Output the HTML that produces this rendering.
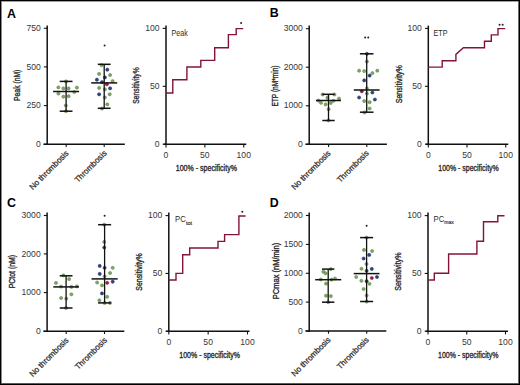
<!DOCTYPE html>
<html><head><meta charset="utf-8"><title>Figure</title>
<style>
html,body{margin:0;padding:0;background:#fff;}
body{width:520px;height:385px;overflow:hidden;}
svg{display:block;}
svg text{font-family:"Liberation Sans", sans-serif;}
</style></head>
<body>
<svg width="520" height="385" viewBox="0 0 520 385">
<rect x="0" y="0" width="520" height="385" fill="#fff"/>
<text x="6.9" y="17.5" font-size="12.4" font-weight="bold" fill="#000">A</text>
<text x="269.7" y="17.3" font-size="12.4" font-weight="bold" fill="#000">B</text>
<text x="7.0" y="206.5" font-size="12.4" font-weight="bold" fill="#000">C</text>
<text x="269.7" y="206.7" font-size="12.4" font-weight="bold" fill="#000">D</text>
<line x1="47.2" y1="25.6" x2="47.2" y2="145.05" stroke="#111" stroke-width="1.5"/>
<line x1="43.9" y1="28.3" x2="47.2" y2="28.3" stroke="#111" stroke-width="1.1"/>
<text x="40.8" y="30.9" font-size="8.6" text-anchor="end" font-weight="normal" fill="#363636" >750</text>
<line x1="43.9" y1="66.9" x2="47.2" y2="66.9" stroke="#111" stroke-width="1.1"/>
<text x="40.8" y="69.5" font-size="8.6" text-anchor="end" font-weight="normal" fill="#363636" >500</text>
<line x1="43.9" y1="105.6" x2="47.2" y2="105.6" stroke="#111" stroke-width="1.1"/>
<text x="40.8" y="108.2" font-size="8.6" text-anchor="end" font-weight="normal" fill="#363636" >250</text>
<line x1="43.9" y1="144.3" x2="47.2" y2="144.3" stroke="#111" stroke-width="1.1"/>
<text x="40.8" y="146.9" font-size="8.6" text-anchor="end" font-weight="normal" fill="#363636" >0</text>
<line x1="43.4" y1="144.3" x2="124.8" y2="144.3" stroke="#111" stroke-width="1.5"/>
<line x1="66.2" y1="144.3" x2="66.2" y2="147.1" stroke="#111" stroke-width="1.1"/>
<line x1="104.2" y1="144.3" x2="104.2" y2="147.1" stroke="#111" stroke-width="1.1"/>
<text x="0" y="0" font-size="8.2" text-anchor="end" fill="#2a2a2a" stroke="#2a2a2a" stroke-width="0.25" textLength="51.6" lengthAdjust="spacingAndGlyphs" transform="translate(69.2,153.8) rotate(-45)">No thrombosis</text>
<text x="0" y="0" font-size="8.2" text-anchor="end" fill="#2a2a2a" stroke="#2a2a2a" stroke-width="0.25" textLength="41.4" lengthAdjust="spacingAndGlyphs" transform="translate(107.2,153.8) rotate(-45)">Thrombosis</text>
<text x="0" y="0" font-size="8.8" font-weight="normal" stroke="#2a2a2a" stroke-width="0.35" text-anchor="middle" fill="#2a2a2a" textLength="31.3" lengthAdjust="spacingAndGlyphs" transform="translate(19.77,85.3) rotate(-90)">Peak (nM)</text>
<circle cx="66" cy="81.4" r="1.6" fill="#7ea666" stroke="#5a823f" stroke-width="0.5"/>
<circle cx="58.4" cy="87.4" r="1.6" fill="#7ea666" stroke="#5a823f" stroke-width="0.5"/>
<circle cx="63.4" cy="88.4" r="1.6" fill="#7ea666" stroke="#5a823f" stroke-width="0.5"/>
<circle cx="68.6" cy="88.4" r="1.6" fill="#7ea666" stroke="#5a823f" stroke-width="0.5"/>
<circle cx="76.9" cy="87.6" r="1.6" fill="#7ea666" stroke="#5a823f" stroke-width="0.5"/>
<circle cx="58.4" cy="93.6" r="1.6" fill="#7ea666" stroke="#5a823f" stroke-width="0.5"/>
<circle cx="74.3" cy="92" r="1.6" fill="#7ea666" stroke="#5a823f" stroke-width="0.5"/>
<circle cx="63.4" cy="96.7" r="1.6" fill="#7ea666" stroke="#5a823f" stroke-width="0.5"/>
<circle cx="68.6" cy="96.2" r="1.6" fill="#7ea666" stroke="#5a823f" stroke-width="0.5"/>
<circle cx="65.8" cy="105.5" r="1.6" fill="#7ea666" stroke="#5a823f" stroke-width="0.5"/>
<circle cx="66" cy="111.2" r="1.6" fill="#7ea666" stroke="#5a823f" stroke-width="0.5"/>
<line x1="66.1" y1="81.4" x2="66.1" y2="111.2" stroke="#111" stroke-width="1.3"/>
<line x1="59.7" y1="81.4" x2="72.5" y2="81.4" stroke="#111" stroke-width="1.5"/>
<line x1="59.7" y1="111.2" x2="72.5" y2="111.2" stroke="#111" stroke-width="1.5"/>
<line x1="53.1" y1="91.5" x2="79.1" y2="91.5" stroke="#111" stroke-width="1.5"/>
<circle cx="101.6" cy="65.2" r="1.6" fill="#7ea666" stroke="#5a823f" stroke-width="0.5"/>
<circle cx="107.3" cy="69.7" r="1.6" fill="#2f4383" stroke="#1d2a5c" stroke-width="0.5"/>
<circle cx="99.1" cy="73.9" r="1.6" fill="#7ea666" stroke="#5a823f" stroke-width="0.5"/>
<circle cx="110.1" cy="75" r="1.6" fill="#7ea666" stroke="#5a823f" stroke-width="0.5"/>
<circle cx="104.9" cy="77.4" r="1.6" fill="#2f4383" stroke="#1d2a5c" stroke-width="0.5"/>
<circle cx="96.9" cy="79.7" r="1.6" fill="#2f4383" stroke="#1d2a5c" stroke-width="0.5"/>
<circle cx="112.6" cy="81.1" r="1.6" fill="#7ea666" stroke="#5a823f" stroke-width="0.5"/>
<circle cx="102" cy="82.1" r="1.6" fill="#2f4383" stroke="#1d2a5c" stroke-width="0.5"/>
<circle cx="106.9" cy="84.3" r="1.6" fill="#a3173f" stroke="#8c1236" stroke-width="0.5"/>
<circle cx="99.1" cy="87.9" r="1.6" fill="#7ea666" stroke="#5a823f" stroke-width="0.5"/>
<circle cx="104.9" cy="89.3" r="1.6" fill="#7ea666" stroke="#5a823f" stroke-width="0.5"/>
<circle cx="110.1" cy="88.3" r="1.6" fill="#2f4383" stroke="#1d2a5c" stroke-width="0.5"/>
<circle cx="99.1" cy="94.3" r="1.6" fill="#2f4383" stroke="#1d2a5c" stroke-width="0.5"/>
<circle cx="109.7" cy="94.3" r="1.6" fill="#7ea666" stroke="#5a823f" stroke-width="0.5"/>
<circle cx="104.9" cy="97.4" r="1.6" fill="#7ea666" stroke="#5a823f" stroke-width="0.5"/>
<circle cx="107.3" cy="104.3" r="1.6" fill="#7ea666" stroke="#5a823f" stroke-width="0.5"/>
<circle cx="102" cy="108.6" r="1.6" fill="#7ea666" stroke="#5a823f" stroke-width="0.5"/>
<line x1="104.2" y1="64.3" x2="104.2" y2="108.3" stroke="#111" stroke-width="1.3"/>
<line x1="97.8" y1="64.3" x2="110.6" y2="64.3" stroke="#111" stroke-width="1.5"/>
<line x1="97.8" y1="108.3" x2="110.6" y2="108.3" stroke="#111" stroke-width="1.5"/>
<line x1="91.2" y1="82.9" x2="117.2" y2="82.9" stroke="#111" stroke-width="1.5"/>
<circle cx="104.6" cy="45.5" r="1.0" fill="#222"/>
<line x1="166" y1="25.6" x2="166" y2="144.95" stroke="#111" stroke-width="1.5"/>
<line x1="162.7" y1="28.4" x2="166" y2="28.4" stroke="#111" stroke-width="1.1"/>
<text x="159.6" y="31" font-size="8.6" text-anchor="end" font-weight="normal" fill="#363636" >100</text>
<line x1="162.7" y1="86.3" x2="166" y2="86.3" stroke="#111" stroke-width="1.1"/>
<text x="159.6" y="88.9" font-size="8.6" text-anchor="end" font-weight="normal" fill="#363636" >50</text>
<line x1="162.7" y1="144.2" x2="166" y2="144.2" stroke="#111" stroke-width="1.1"/>
<text x="159.6" y="146.8" font-size="8.6" text-anchor="end" font-weight="normal" fill="#363636" >0</text>
<line x1="163.5" y1="144.2" x2="246.3" y2="144.2" stroke="#111" stroke-width="1.5"/>
<line x1="166" y1="144.2" x2="166" y2="147.4" stroke="#111" stroke-width="1.1"/>
<text x="166" y="158.2" font-size="8.6" text-anchor="middle" font-weight="normal" fill="#363636" >0</text>
<line x1="204.88" y1="144.2" x2="204.88" y2="147.4" stroke="#111" stroke-width="1.1"/>
<text x="204.88" y="158.2" font-size="8.6" text-anchor="middle" font-weight="normal" fill="#363636" >50</text>
<line x1="243.75" y1="144.2" x2="243.75" y2="147.4" stroke="#111" stroke-width="1.1"/>
<text x="243.75" y="158.2" font-size="8.6" text-anchor="middle" font-weight="normal" fill="#363636" >100</text>
<text x="206.38" y="170.87" font-size="8.8" font-weight="normal" stroke="#2a2a2a" stroke-width="0.35" text-anchor="middle" fill="#2a2a2a" textLength="61.2" lengthAdjust="spacingAndGlyphs">100% - specificity%</text>
<text x="0" y="0" font-size="8.8" font-weight="normal" stroke="#2a2a2a" stroke-width="0.35" text-anchor="middle" fill="#2a2a2a" textLength="36.5" lengthAdjust="spacingAndGlyphs" transform="translate(139.17,85.5) rotate(-90)">Sensitivity%</text>
<path d="M166,93 L172.8,93 L172.8,79.8 L186.9,79.8 L186.9,67 L200.8,67 L200.8,60.4 L214.7,60.4 L214.7,47.8 L228.4,47.8 L228.4,34.6 L236.2,34.6 L236.2,28.6 L243.2,28.6" fill="none" stroke="#821536" stroke-width="1.4" stroke-linejoin="miter"/>
<text x="171.5" y="35.8" font-size="8.6" fill="#2a2a2a" textLength="16.3" lengthAdjust="spacingAndGlyphs">Peak</text>
<circle cx="241.1" cy="23" r="1.0" fill="#222"/>
<line x1="309.2" y1="25.6" x2="309.2" y2="145.05" stroke="#111" stroke-width="1.5"/>
<line x1="305.9" y1="28.7" x2="309.2" y2="28.7" stroke="#111" stroke-width="1.1"/>
<text x="302.8" y="31.3" font-size="8.6" text-anchor="end" font-weight="normal" fill="#363636" >3000</text>
<line x1="305.9" y1="67.2" x2="309.2" y2="67.2" stroke="#111" stroke-width="1.1"/>
<text x="302.8" y="69.8" font-size="8.6" text-anchor="end" font-weight="normal" fill="#363636" >2000</text>
<line x1="305.9" y1="105.8" x2="309.2" y2="105.8" stroke="#111" stroke-width="1.1"/>
<text x="302.8" y="108.4" font-size="8.6" text-anchor="end" font-weight="normal" fill="#363636" >1000</text>
<line x1="305.9" y1="144.3" x2="309.2" y2="144.3" stroke="#111" stroke-width="1.1"/>
<text x="302.8" y="146.9" font-size="8.6" text-anchor="end" font-weight="normal" fill="#363636" >0</text>
<line x1="305.4" y1="144.3" x2="386.9" y2="144.3" stroke="#111" stroke-width="1.5"/>
<line x1="328.6" y1="144.3" x2="328.6" y2="147.1" stroke="#111" stroke-width="1.1"/>
<line x1="366.8" y1="144.3" x2="366.8" y2="147.1" stroke="#111" stroke-width="1.1"/>
<text x="0" y="0" font-size="8.2" text-anchor="end" fill="#2a2a2a" stroke="#2a2a2a" stroke-width="0.25" textLength="51.6" lengthAdjust="spacingAndGlyphs" transform="translate(331.2,153.8) rotate(-45)">No thrombosis</text>
<text x="0" y="0" font-size="8.2" text-anchor="end" fill="#2a2a2a" stroke="#2a2a2a" stroke-width="0.25" textLength="41.4" lengthAdjust="spacingAndGlyphs" transform="translate(369.4,153.8) rotate(-45)">Thrombosis</text>
<text x="0" y="0" font-size="8.8" font-weight="normal" stroke="#2a2a2a" stroke-width="0.35" text-anchor="middle" fill="#2a2a2a" textLength="41" lengthAdjust="spacingAndGlyphs" transform="translate(278.17,86) rotate(-90)">ETP (nM*min)</text>
<circle cx="322.6" cy="94.5" r="1.6" fill="#7ea666" stroke="#5a823f" stroke-width="0.5"/>
<circle cx="334.4" cy="94.5" r="1.6" fill="#7ea666" stroke="#5a823f" stroke-width="0.5"/>
<circle cx="327.4" cy="97.7" r="1.6" fill="#7ea666" stroke="#5a823f" stroke-width="0.5"/>
<circle cx="339" cy="98.6" r="1.6" fill="#7ea666" stroke="#5a823f" stroke-width="0.5"/>
<circle cx="318.5" cy="100.6" r="1.6" fill="#7ea666" stroke="#5a823f" stroke-width="0.5"/>
<circle cx="321" cy="102.8" r="1.6" fill="#7ea666" stroke="#5a823f" stroke-width="0.5"/>
<circle cx="325.6" cy="104.4" r="1.6" fill="#7ea666" stroke="#5a823f" stroke-width="0.5"/>
<circle cx="330.8" cy="103" r="1.6" fill="#7ea666" stroke="#5a823f" stroke-width="0.5"/>
<circle cx="333.5" cy="100.8" r="1.6" fill="#7ea666" stroke="#5a823f" stroke-width="0.5"/>
<circle cx="328.6" cy="109.2" r="1.6" fill="#7ea666" stroke="#5a823f" stroke-width="0.5"/>
<circle cx="328.5" cy="120.5" r="1.6" fill="#7ea666" stroke="#5a823f" stroke-width="0.5"/>
<line x1="328.5" y1="94.3" x2="328.5" y2="120.5" stroke="#111" stroke-width="1.3"/>
<line x1="322.3" y1="94.3" x2="334.7" y2="94.3" stroke="#111" stroke-width="1.5"/>
<line x1="322.3" y1="120.5" x2="334.7" y2="120.5" stroke="#111" stroke-width="1.5"/>
<line x1="316" y1="100.5" x2="341" y2="100.5" stroke="#111" stroke-width="1.5"/>
<circle cx="366.9" cy="53.8" r="1.6" fill="#2f4383" stroke="#1d2a5c" stroke-width="0.5"/>
<circle cx="366.9" cy="61.6" r="1.6" fill="#7ea666" stroke="#5a823f" stroke-width="0.5"/>
<circle cx="359.1" cy="70.7" r="1.6" fill="#7ea666" stroke="#5a823f" stroke-width="0.5"/>
<circle cx="364.2" cy="71.1" r="1.6" fill="#7ea666" stroke="#5a823f" stroke-width="0.5"/>
<circle cx="372.4" cy="73.1" r="1.6" fill="#7ea666" stroke="#5a823f" stroke-width="0.5"/>
<circle cx="377.3" cy="70.7" r="1.6" fill="#7ea666" stroke="#5a823f" stroke-width="0.5"/>
<circle cx="369.6" cy="75.6" r="1.6" fill="#2f4383" stroke="#1d2a5c" stroke-width="0.5"/>
<circle cx="364.2" cy="80.4" r="1.6" fill="#2f4383" stroke="#1d2a5c" stroke-width="0.5"/>
<circle cx="366.9" cy="88.4" r="1.6" fill="#7ea666" stroke="#5a823f" stroke-width="0.5"/>
<circle cx="361.8" cy="91.3" r="1.6" fill="#a3173f" stroke="#8c1236" stroke-width="0.5"/>
<circle cx="366.9" cy="93.5" r="1.6" fill="#7ea666" stroke="#5a823f" stroke-width="0.5"/>
<circle cx="372.4" cy="92.5" r="1.6" fill="#2f4383" stroke="#1d2a5c" stroke-width="0.5"/>
<circle cx="359.1" cy="97.5" r="1.6" fill="#2f4383" stroke="#1d2a5c" stroke-width="0.5"/>
<circle cx="374.9" cy="99.5" r="1.6" fill="#2f4383" stroke="#1d2a5c" stroke-width="0.5"/>
<circle cx="364.2" cy="101.1" r="1.6" fill="#7ea666" stroke="#5a823f" stroke-width="0.5"/>
<circle cx="369.6" cy="102.2" r="1.6" fill="#7ea666" stroke="#5a823f" stroke-width="0.5"/>
<circle cx="369.6" cy="108.5" r="1.6" fill="#7ea666" stroke="#5a823f" stroke-width="0.5"/>
<circle cx="364.5" cy="112.5" r="1.6" fill="#7ea666" stroke="#5a823f" stroke-width="0.5"/>
<line x1="366.7" y1="53.8" x2="366.7" y2="112.2" stroke="#111" stroke-width="1.3"/>
<line x1="359.9" y1="53.8" x2="373.5" y2="53.8" stroke="#111" stroke-width="1.5"/>
<line x1="359.9" y1="112.2" x2="373.5" y2="112.2" stroke="#111" stroke-width="1.5"/>
<line x1="353.8" y1="90" x2="379.6" y2="90" stroke="#111" stroke-width="1.5"/>
<circle cx="365.15" cy="37.5" r="1.0" fill="#222"/>
<circle cx="368.25" cy="37.5" r="1.0" fill="#222"/>
<line x1="428.3" y1="25.6" x2="428.3" y2="144.95" stroke="#111" stroke-width="1.5"/>
<line x1="425" y1="28.4" x2="428.3" y2="28.4" stroke="#111" stroke-width="1.1"/>
<text x="421.9" y="31" font-size="8.6" text-anchor="end" font-weight="normal" fill="#363636" >100</text>
<line x1="425" y1="86.3" x2="428.3" y2="86.3" stroke="#111" stroke-width="1.1"/>
<text x="421.9" y="88.9" font-size="8.6" text-anchor="end" font-weight="normal" fill="#363636" >50</text>
<line x1="425" y1="144.2" x2="428.3" y2="144.2" stroke="#111" stroke-width="1.1"/>
<text x="421.9" y="146.8" font-size="8.6" text-anchor="end" font-weight="normal" fill="#363636" >0</text>
<line x1="425.8" y1="144.2" x2="508.3" y2="144.2" stroke="#111" stroke-width="1.5"/>
<line x1="428.3" y1="144.2" x2="428.3" y2="147.4" stroke="#111" stroke-width="1.1"/>
<text x="428.3" y="158.2" font-size="8.6" text-anchor="middle" font-weight="normal" fill="#363636" >0</text>
<line x1="467.02" y1="144.2" x2="467.02" y2="147.4" stroke="#111" stroke-width="1.1"/>
<text x="467.02" y="158.2" font-size="8.6" text-anchor="middle" font-weight="normal" fill="#363636" >50</text>
<line x1="505.75" y1="144.2" x2="505.75" y2="147.4" stroke="#111" stroke-width="1.1"/>
<text x="505.75" y="158.2" font-size="8.6" text-anchor="middle" font-weight="normal" fill="#363636" >100</text>
<text x="468.52" y="170.87" font-size="8.8" font-weight="normal" stroke="#2a2a2a" stroke-width="0.35" text-anchor="middle" fill="#2a2a2a" textLength="60.5" lengthAdjust="spacingAndGlyphs">100% - specificity%</text>
<text x="0" y="0" font-size="8.8" font-weight="normal" stroke="#2a2a2a" stroke-width="0.35" text-anchor="middle" fill="#2a2a2a" textLength="38.2" lengthAdjust="spacingAndGlyphs" transform="translate(401.87,84.2) rotate(-90)">Sensitivity%</text>
<path d="M428.3,67.1 L442.2,67.1 L442.2,60.7 L455.9,60.7 L455.9,54.4 L463.4,47.7 L484.5,47.7 L484.5,41.3 L491.3,41.3 L491.3,34.9 L498,34.9 L498,28.6 L505.2,28.6" fill="none" stroke="#821536" stroke-width="1.4" stroke-linejoin="miter"/>
<text x="433.5" y="36.2" font-size="8.6" fill="#2a2a2a" textLength="14" lengthAdjust="spacingAndGlyphs">ETP</text>
<circle cx="499.55" cy="24.7" r="1.0" fill="#222"/>
<circle cx="502.65" cy="24.7" r="1.0" fill="#222"/>
<line x1="47.1" y1="212.6" x2="47.1" y2="332" stroke="#111" stroke-width="1.5"/>
<line x1="43.8" y1="215.5" x2="47.1" y2="215.5" stroke="#111" stroke-width="1.1"/>
<text x="40.7" y="218.1" font-size="8.6" text-anchor="end" font-weight="normal" fill="#363636" >3000</text>
<line x1="43.8" y1="253.9" x2="47.1" y2="253.9" stroke="#111" stroke-width="1.1"/>
<text x="40.7" y="256.5" font-size="8.6" text-anchor="end" font-weight="normal" fill="#363636" >2000</text>
<line x1="43.8" y1="292.6" x2="47.1" y2="292.6" stroke="#111" stroke-width="1.1"/>
<text x="40.7" y="295.2" font-size="8.6" text-anchor="end" font-weight="normal" fill="#363636" >1000</text>
<line x1="43.8" y1="331.25" x2="47.1" y2="331.25" stroke="#111" stroke-width="1.1"/>
<text x="40.7" y="333.85" font-size="8.6" text-anchor="end" font-weight="normal" fill="#363636" >0</text>
<line x1="43.4" y1="331.25" x2="124.3" y2="331.25" stroke="#111" stroke-width="1.5"/>
<line x1="66.2" y1="331.25" x2="66.2" y2="334.05" stroke="#111" stroke-width="1.1"/>
<line x1="104.5" y1="331.25" x2="104.5" y2="334.05" stroke="#111" stroke-width="1.1"/>
<text x="0" y="0" font-size="8.2" text-anchor="end" fill="#2a2a2a" stroke="#2a2a2a" stroke-width="0.25" textLength="51.6" lengthAdjust="spacingAndGlyphs" transform="translate(69.2,340.8) rotate(-45)">No thrombosis</text>
<text x="0" y="0" font-size="8.2" text-anchor="end" fill="#2a2a2a" stroke="#2a2a2a" stroke-width="0.25" textLength="41.4" lengthAdjust="spacingAndGlyphs" transform="translate(107.5,340.8) rotate(-45)">Thrombosis</text>
<text x="0" y="0" font-size="8.8" font-weight="normal" stroke="#2a2a2a" stroke-width="0.35" text-anchor="middle" fill="#2a2a2a" textLength="33.4" lengthAdjust="spacingAndGlyphs" transform="translate(15.37,271.6) rotate(-90)">PCtot (nM)</text>
<circle cx="63.4" cy="275.3" r="1.6" fill="#7ea666" stroke="#5a823f" stroke-width="0.5"/>
<circle cx="69.1" cy="279.1" r="1.6" fill="#7ea666" stroke="#5a823f" stroke-width="0.5"/>
<circle cx="56" cy="282.9" r="1.6" fill="#7ea666" stroke="#5a823f" stroke-width="0.5"/>
<circle cx="61.1" cy="286.6" r="1.6" fill="#7ea666" stroke="#5a823f" stroke-width="0.5"/>
<circle cx="71.4" cy="286.9" r="1.6" fill="#7ea666" stroke="#5a823f" stroke-width="0.5"/>
<circle cx="76.9" cy="286.4" r="1.6" fill="#7ea666" stroke="#5a823f" stroke-width="0.5"/>
<circle cx="71.4" cy="294.3" r="1.6" fill="#7ea666" stroke="#5a823f" stroke-width="0.5"/>
<circle cx="61.1" cy="298" r="1.6" fill="#7ea666" stroke="#5a823f" stroke-width="0.5"/>
<circle cx="66.3" cy="298.6" r="1.6" fill="#7ea666" stroke="#5a823f" stroke-width="0.5"/>
<circle cx="66" cy="308" r="1.6" fill="#7ea666" stroke="#5a823f" stroke-width="0.5"/>
<line x1="66.1" y1="275.8" x2="66.1" y2="308" stroke="#111" stroke-width="1.3"/>
<line x1="59.7" y1="275.8" x2="72.5" y2="275.8" stroke="#111" stroke-width="1.5"/>
<line x1="59.7" y1="308" x2="72.5" y2="308" stroke="#111" stroke-width="1.5"/>
<line x1="53.3" y1="286.9" x2="78.9" y2="286.9" stroke="#111" stroke-width="1.5"/>
<circle cx="104.2" cy="224.7" r="1.6" fill="#7ea666" stroke="#5a823f" stroke-width="0.5"/>
<circle cx="104.2" cy="241.9" r="1.6" fill="#7ea666" stroke="#5a823f" stroke-width="0.5"/>
<circle cx="104.2" cy="247.5" r="1.6" fill="#2f4383" stroke="#1d2a5c" stroke-width="0.5"/>
<circle cx="99.7" cy="265.9" r="1.6" fill="#2f4383" stroke="#1d2a5c" stroke-width="0.5"/>
<circle cx="104.6" cy="267.8" r="1.6" fill="#2f4383" stroke="#1d2a5c" stroke-width="0.5"/>
<circle cx="112.7" cy="267.8" r="1.6" fill="#7ea666" stroke="#5a823f" stroke-width="0.5"/>
<circle cx="99.7" cy="273.9" r="1.6" fill="#2f4383" stroke="#1d2a5c" stroke-width="0.5"/>
<circle cx="110.1" cy="273" r="1.6" fill="#7ea666" stroke="#5a823f" stroke-width="0.5"/>
<circle cx="104.6" cy="276.3" r="1.6" fill="#7ea666" stroke="#5a823f" stroke-width="0.5"/>
<circle cx="97.1" cy="282.5" r="1.6" fill="#7ea666" stroke="#5a823f" stroke-width="0.5"/>
<circle cx="107.2" cy="282.8" r="1.6" fill="#a3173f" stroke="#8c1236" stroke-width="0.5"/>
<circle cx="112.7" cy="281.7" r="1.6" fill="#2f4383" stroke="#1d2a5c" stroke-width="0.5"/>
<circle cx="102" cy="285.4" r="1.6" fill="#7ea666" stroke="#5a823f" stroke-width="0.5"/>
<circle cx="102" cy="293.4" r="1.6" fill="#2f4383" stroke="#1d2a5c" stroke-width="0.5"/>
<circle cx="107.2" cy="296.8" r="1.6" fill="#7ea666" stroke="#5a823f" stroke-width="0.5"/>
<circle cx="99.4" cy="300.3" r="1.6" fill="#7ea666" stroke="#5a823f" stroke-width="0.5"/>
<circle cx="110" cy="302.9" r="1.6" fill="#7ea666" stroke="#5a823f" stroke-width="0.5"/>
<circle cx="104.6" cy="303" r="1.6" fill="#7ea666" stroke="#5a823f" stroke-width="0.5"/>
<line x1="104.6" y1="224.7" x2="104.6" y2="302.9" stroke="#111" stroke-width="1.3"/>
<line x1="98.1" y1="224.7" x2="111.1" y2="224.7" stroke="#111" stroke-width="1.5"/>
<line x1="98.1" y1="302.9" x2="111.1" y2="302.9" stroke="#111" stroke-width="1.5"/>
<line x1="91.5" y1="278.9" x2="117.7" y2="278.9" stroke="#111" stroke-width="1.5"/>
<circle cx="104.6" cy="215.8" r="1.0" fill="#222"/>
<line x1="168.8" y1="212.6" x2="168.8" y2="332" stroke="#111" stroke-width="1.5"/>
<line x1="165.5" y1="215.6" x2="168.8" y2="215.6" stroke="#111" stroke-width="1.1"/>
<text x="162.4" y="218.2" font-size="8.6" text-anchor="end" font-weight="normal" fill="#363636" >100</text>
<line x1="165.5" y1="273.43" x2="168.8" y2="273.43" stroke="#111" stroke-width="1.1"/>
<text x="162.4" y="276.03" font-size="8.6" text-anchor="end" font-weight="normal" fill="#363636" >50</text>
<line x1="165.5" y1="331.25" x2="168.8" y2="331.25" stroke="#111" stroke-width="1.1"/>
<text x="162.4" y="333.85" font-size="8.6" text-anchor="end" font-weight="normal" fill="#363636" >0</text>
<line x1="166.3" y1="331.25" x2="249.5" y2="331.25" stroke="#111" stroke-width="1.5"/>
<line x1="168.8" y1="331.25" x2="168.8" y2="334.45" stroke="#111" stroke-width="1.1"/>
<text x="168.8" y="345.25" font-size="8.6" text-anchor="middle" font-weight="normal" fill="#363636" >0</text>
<line x1="208.15" y1="331.25" x2="208.15" y2="334.45" stroke="#111" stroke-width="1.1"/>
<text x="208.15" y="345.25" font-size="8.6" text-anchor="middle" font-weight="normal" fill="#363636" >50</text>
<line x1="247.5" y1="331.25" x2="247.5" y2="334.45" stroke="#111" stroke-width="1.1"/>
<text x="247.5" y="345.25" font-size="8.6" text-anchor="middle" font-weight="normal" fill="#363636" >100</text>
<text x="209.65" y="357.67" font-size="8.8" font-weight="normal" stroke="#2a2a2a" stroke-width="0.35" text-anchor="middle" fill="#2a2a2a" textLength="60.8" lengthAdjust="spacingAndGlyphs">100% - specificity%</text>
<text x="0" y="0" font-size="8.8" font-weight="normal" stroke="#2a2a2a" stroke-width="0.35" text-anchor="middle" fill="#2a2a2a" textLength="37.4" lengthAdjust="spacingAndGlyphs" transform="translate(142.37,272) rotate(-90)">Sensitivity%</text>
<path d="M168.8,280 L176,280 L176,273.4 L182.7,273.4 L182.7,254.7 L189.7,254.7 L189.7,248 L218,248 L218,241.4 L224.6,241.4 L224.6,234.6 L238.9,234.6 L238.9,216 L245.6,216" fill="none" stroke="#821536" stroke-width="1.4" stroke-linejoin="miter"/>
<text x="175.1" y="222.4" font-size="8.6" fill="#2a2a2a" textLength="10.7" lengthAdjust="spacingAndGlyphs">PC</text>
<text x="185.9" y="224.9" font-size="5.2" fill="#2a2a2a" stroke="#2a2a2a" stroke-width="0.15" textLength="6.2" lengthAdjust="spacingAndGlyphs">tot</text>
<circle cx="242.3" cy="211.8" r="1.0" fill="#222"/>
<line x1="309.2" y1="212.6" x2="309.2" y2="331.65" stroke="#111" stroke-width="1.5"/>
<line x1="305.9" y1="215.5" x2="309.2" y2="215.5" stroke="#111" stroke-width="1.1"/>
<text x="302.8" y="218.1" font-size="8.6" text-anchor="end" font-weight="normal" fill="#363636" >2000</text>
<line x1="305.9" y1="244.4" x2="309.2" y2="244.4" stroke="#111" stroke-width="1.1"/>
<text x="302.8" y="247" font-size="8.6" text-anchor="end" font-weight="normal" fill="#363636" >1500</text>
<line x1="305.9" y1="273.3" x2="309.2" y2="273.3" stroke="#111" stroke-width="1.1"/>
<text x="302.8" y="275.9" font-size="8.6" text-anchor="end" font-weight="normal" fill="#363636" >1000</text>
<line x1="305.9" y1="302.1" x2="309.2" y2="302.1" stroke="#111" stroke-width="1.1"/>
<text x="302.8" y="304.7" font-size="8.6" text-anchor="end" font-weight="normal" fill="#363636" >500</text>
<line x1="305.9" y1="330.9" x2="309.2" y2="330.9" stroke="#111" stroke-width="1.1"/>
<text x="302.8" y="333.5" font-size="8.6" text-anchor="end" font-weight="normal" fill="#363636" >0</text>
<line x1="305.4" y1="330.9" x2="386.3" y2="330.9" stroke="#111" stroke-width="1.5"/>
<line x1="328.5" y1="330.9" x2="328.5" y2="333.7" stroke="#111" stroke-width="1.1"/>
<line x1="366.7" y1="330.9" x2="366.7" y2="333.7" stroke="#111" stroke-width="1.1"/>
<text x="0" y="0" font-size="8.2" text-anchor="end" fill="#2a2a2a" stroke="#2a2a2a" stroke-width="0.25" textLength="51.6" lengthAdjust="spacingAndGlyphs" transform="translate(331.2,340.4) rotate(-45)">No thrombosis</text>
<text x="0" y="0" font-size="8.2" text-anchor="end" fill="#2a2a2a" stroke="#2a2a2a" stroke-width="0.25" textLength="41.4" lengthAdjust="spacingAndGlyphs" transform="translate(369.4,340.4) rotate(-45)">Thrombosis</text>
<text x="0" y="0" font-size="8.8" font-weight="normal" stroke="#2a2a2a" stroke-width="0.35" text-anchor="middle" fill="#2a2a2a" textLength="56.3" lengthAdjust="spacingAndGlyphs" transform="translate(279.17,271) rotate(-90)">PCmax (nM/min)</text>
<circle cx="330.8" cy="269.1" r="1.6" fill="#7ea666" stroke="#5a823f" stroke-width="0.5"/>
<circle cx="323.4" cy="271.7" r="1.6" fill="#7ea666" stroke="#5a823f" stroke-width="0.5"/>
<circle cx="325.5" cy="273.3" r="1.6" fill="#7ea666" stroke="#5a823f" stroke-width="0.5"/>
<circle cx="320.8" cy="279.5" r="1.6" fill="#7ea666" stroke="#5a823f" stroke-width="0.5"/>
<circle cx="331.5" cy="279.7" r="1.6" fill="#7ea666" stroke="#5a823f" stroke-width="0.5"/>
<circle cx="335" cy="278.5" r="1.6" fill="#7ea666" stroke="#5a823f" stroke-width="0.5"/>
<circle cx="326" cy="283.6" r="1.6" fill="#7ea666" stroke="#5a823f" stroke-width="0.5"/>
<circle cx="326" cy="295.7" r="1.6" fill="#7ea666" stroke="#5a823f" stroke-width="0.5"/>
<circle cx="330.8" cy="296.1" r="1.6" fill="#7ea666" stroke="#5a823f" stroke-width="0.5"/>
<circle cx="328.2" cy="302.2" r="1.6" fill="#7ea666" stroke="#5a823f" stroke-width="0.5"/>
<line x1="328.2" y1="269.1" x2="328.2" y2="302.2" stroke="#111" stroke-width="1.3"/>
<line x1="322" y1="269.1" x2="334.4" y2="269.1" stroke="#111" stroke-width="1.5"/>
<line x1="322" y1="302.2" x2="334.4" y2="302.2" stroke="#111" stroke-width="1.5"/>
<line x1="315.2" y1="279.7" x2="341.2" y2="279.7" stroke="#111" stroke-width="1.5"/>
<circle cx="366.5" cy="237.6" r="1.6" fill="#7ea666" stroke="#5a823f" stroke-width="0.5"/>
<circle cx="364" cy="249.9" r="1.6" fill="#7ea666" stroke="#5a823f" stroke-width="0.5"/>
<circle cx="372.1" cy="251" r="1.6" fill="#7ea666" stroke="#5a823f" stroke-width="0.5"/>
<circle cx="369.2" cy="254.9" r="1.6" fill="#2f4383" stroke="#1d2a5c" stroke-width="0.5"/>
<circle cx="363.6" cy="258.5" r="1.6" fill="#2f4383" stroke="#1d2a5c" stroke-width="0.5"/>
<circle cx="366.5" cy="264" r="1.6" fill="#7ea666" stroke="#5a823f" stroke-width="0.5"/>
<circle cx="361.5" cy="268.8" r="1.6" fill="#7ea666" stroke="#5a823f" stroke-width="0.5"/>
<circle cx="371.8" cy="268.9" r="1.6" fill="#2f4383" stroke="#1d2a5c" stroke-width="0.5"/>
<circle cx="366.6" cy="270.8" r="1.6" fill="#2f4383" stroke="#1d2a5c" stroke-width="0.5"/>
<circle cx="356.2" cy="277" r="1.6" fill="#7ea666" stroke="#5a823f" stroke-width="0.5"/>
<circle cx="371.8" cy="278" r="1.6" fill="#a3173f" stroke="#8c1236" stroke-width="0.5"/>
<circle cx="377" cy="277" r="1.6" fill="#2f4383" stroke="#1d2a5c" stroke-width="0.5"/>
<circle cx="361.4" cy="280.8" r="1.6" fill="#7ea666" stroke="#5a823f" stroke-width="0.5"/>
<circle cx="366.6" cy="281.2" r="1.6" fill="#2f4383" stroke="#1d2a5c" stroke-width="0.5"/>
<circle cx="369.5" cy="283.8" r="1.6" fill="#7ea666" stroke="#5a823f" stroke-width="0.5"/>
<circle cx="363.6" cy="289" r="1.6" fill="#7ea666" stroke="#5a823f" stroke-width="0.5"/>
<circle cx="366.6" cy="295.5" r="1.6" fill="#7ea666" stroke="#5a823f" stroke-width="0.5"/>
<circle cx="366.6" cy="301.6" r="1.6" fill="#7ea666" stroke="#5a823f" stroke-width="0.5"/>
<line x1="366.6" y1="237.6" x2="366.6" y2="301.5" stroke="#111" stroke-width="1.3"/>
<line x1="360.1" y1="237.6" x2="373.1" y2="237.6" stroke="#111" stroke-width="1.5"/>
<line x1="360.1" y1="301.5" x2="373.1" y2="301.5" stroke="#111" stroke-width="1.5"/>
<line x1="353.7" y1="273.6" x2="379.5" y2="273.6" stroke="#111" stroke-width="1.5"/>
<circle cx="366.6" cy="225.8" r="1.0" fill="#222"/>
<line x1="428" y1="212.6" x2="428" y2="332" stroke="#111" stroke-width="1.5"/>
<line x1="424.7" y1="215.6" x2="428" y2="215.6" stroke="#111" stroke-width="1.1"/>
<text x="421.6" y="218.2" font-size="8.6" text-anchor="end" font-weight="normal" fill="#363636" >100</text>
<line x1="424.7" y1="273.43" x2="428" y2="273.43" stroke="#111" stroke-width="1.1"/>
<text x="421.6" y="276.03" font-size="8.6" text-anchor="end" font-weight="normal" fill="#363636" >50</text>
<line x1="424.7" y1="331.25" x2="428" y2="331.25" stroke="#111" stroke-width="1.1"/>
<text x="421.6" y="333.85" font-size="8.6" text-anchor="end" font-weight="normal" fill="#363636" >0</text>
<line x1="425.5" y1="331.25" x2="508" y2="331.25" stroke="#111" stroke-width="1.5"/>
<line x1="428" y1="331.25" x2="428" y2="334.45" stroke="#111" stroke-width="1.1"/>
<text x="428" y="345.25" font-size="8.6" text-anchor="middle" font-weight="normal" fill="#363636" >0</text>
<line x1="466.75" y1="331.25" x2="466.75" y2="334.45" stroke="#111" stroke-width="1.1"/>
<text x="466.75" y="345.25" font-size="8.6" text-anchor="middle" font-weight="normal" fill="#363636" >50</text>
<line x1="505.5" y1="331.25" x2="505.5" y2="334.45" stroke="#111" stroke-width="1.1"/>
<text x="505.5" y="345.25" font-size="8.6" text-anchor="middle" font-weight="normal" fill="#363636" >100</text>
<text x="468.25" y="357.67" font-size="8.8" font-weight="normal" stroke="#2a2a2a" stroke-width="0.35" text-anchor="middle" fill="#2a2a2a" textLength="60.5" lengthAdjust="spacingAndGlyphs">100% - specificity%</text>
<text x="0" y="0" font-size="8.8" font-weight="normal" stroke="#2a2a2a" stroke-width="0.35" text-anchor="middle" fill="#2a2a2a" textLength="38.2" lengthAdjust="spacingAndGlyphs" transform="translate(401.47,271.6) rotate(-90)">Sensitivity%</text>
<path d="M428,280 L434.3,280 L434.3,273.2 L448.6,273.2 L448.6,254 L476.9,254 L476.9,241.2 L483.5,241.2 L483.5,221.8 L497.8,221.8 L497.8,215.8 L504.5,215.8" fill="none" stroke="#821536" stroke-width="1.4" stroke-linejoin="miter"/>
<text x="433.5" y="222.1" font-size="8.6" fill="#2a2a2a" textLength="10.7" lengthAdjust="spacingAndGlyphs">PC</text>
<text x="444.3" y="224.4" font-size="5.2" fill="#2a2a2a" stroke="#2a2a2a" stroke-width="0.15" textLength="9.6" lengthAdjust="spacingAndGlyphs">max</text>
<line x1="1" y1="1.5" x2="519" y2="1.5" stroke="#a0a0a0" stroke-width="1"/>
<line x1="1.5" y1="1" x2="1.5" y2="384" stroke="#8a8a8a" stroke-width="1"/>
<line x1="518.5" y1="1" x2="518.5" y2="384" stroke="#6a6a6a" stroke-width="1"/>
<line x1="1" y1="383.5" x2="519" y2="383.5" stroke="#5a5a5a" stroke-width="1"/>
<rect x="0.5" y="0.5" width="519" height="384" fill="none" stroke="#000" stroke-width="1"/>
</svg>
</body></html>
